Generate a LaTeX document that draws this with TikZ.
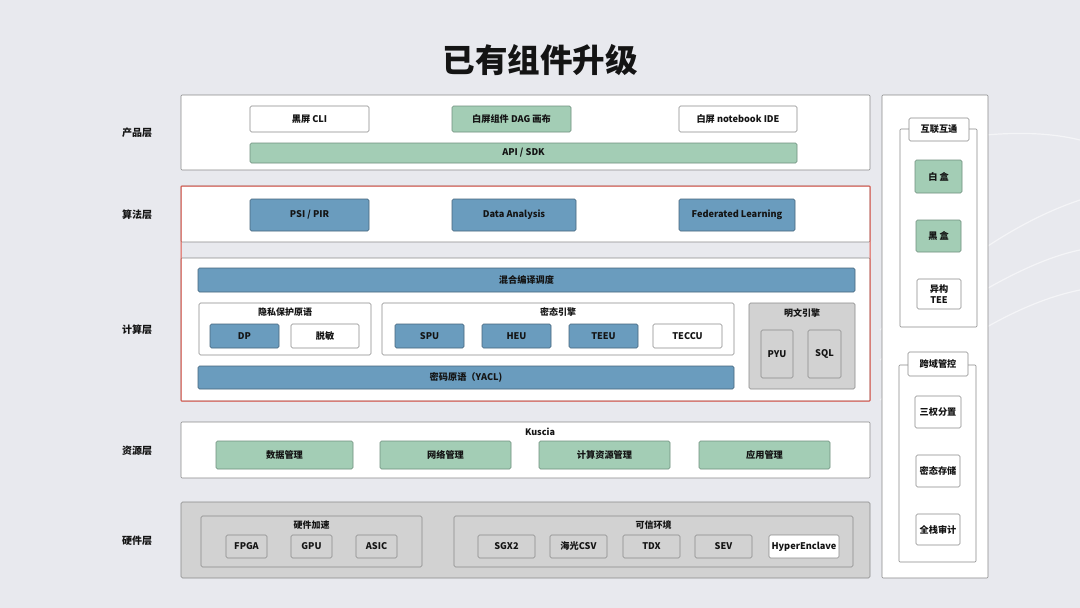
\documentclass[tikz,border=0pt]{standalone}
\usepackage{fontspec}
\setmainfont{Noto Sans CJK SC}
\definecolor{bgc}{HTML}{E8E9EE}
\definecolor{grn}{HTML}{A3CDB5}
\definecolor{grnd}{HTML}{6F8F7D}
\definecolor{blu}{HTML}{6A9CBE}
\definecolor{blud}{HTML}{46657C}
\definecolor{hwg}{HTML}{D2D2D2}
\definecolor{brd}{HTML}{8A8A8A}
\definecolor{redf}{HTML}{E0574B}
\definecolor{txt}{HTML}{141414}
\newcommand{\bx}[7]{\node[#6, minimum width={(#4-#2)*1pt}, minimum height={(#5-#3)*1pt}] (#1) at ({(#2+#4)/2},{(#3+#5)/2}) {#7};}
\begin{document}
\begin{tikzpicture}[x=1pt,y=-1pt,
  every node/.style={font=\bfseries\fontsize{9.2}{10.5}\selectfont, text=txt},
  base/.style={rounded corners=1.5pt, inner sep=0pt, outer sep=0pt, line width=0.6pt, align=center},
  wbox/.style={base, draw=brd, fill=white},
  gbox/.style={base, draw=grnd, fill=grn},
  bbox/.style={base, draw=blud, fill=blu},
  hbox/.style={base, draw=brd, fill=hwg},
  layer/.style={base, rounded corners=1pt, draw=brd, fill=white},
  lbl/.style={font=\bfseries\fontsize{10}{11}\selectfont},
  gtitle/.style={font=\bfseries\fontsize{9}{10}\selectfont}]
\useasboundingbox (0,0) rectangle (1080,608);
\fill[bgc] (0,0) rectangle (1080,608);
% decorative faint lines
\begin{scope}[white, opacity=0.55, line width=1.2pt]
\draw (880,330) .. controls (960,260) and (1020,220) .. (1080,200);
\draw (880,360) .. controls (960,300) and (1030,260) .. (1080,250);
\draw (880,400) .. controls (970,330) and (1030,300) .. (1080,290);
\draw (900,150) .. controls (980,130) and (1040,130) .. (1080,140);
\end{scope}

\node[font=\bfseries\fontsize{32.5}{36}\selectfont] (title) at (540,60) {已有组件升级};

% layer labels
\node[lbl] (lp) at (137,133) {产品层};
\node[lbl] (la) at (137,215) {算法层};
\node[lbl] (lc) at (137,330) {计算层};
\node[lbl] (lr) at (137,451) {资源层};
\node[lbl] (lh) at (137,541) {硬件层};

% product layer
\bx{prod}{181}{95}{870}{170}{layer}{}
\bx{cli}{250}{106}{369}{132}{wbox}{黑屏 CLI}
\bx{dag}{452}{106}{571}{132}{gbox}{白屏组件 DAG 画布}
\bx{ide}{679}{106}{797}{132}{wbox}{白屏 notebook IDE}
\bx{api}{250}{143}{797}{163}{gbox}{API / SDK}

% algorithm + compute
\bx{algo}{181}{186}{870}{242}{layer}{}
\bx{comp}{181}{258}{870}{401}{layer}{}
\bx{redframe}{181}{186}{870}{401}{base, draw=redf, line width=1pt, rounded corners=0.5pt}{}
\bx{psi}{250}{199}{369}{231}{bbox}{PSI / PIR}
\bx{da}{452}{199}{576}{231}{bbox}{Data Analysis}
\bx{fl}{679}{199}{795}{231}{bbox}{Federated Learning}

\bx{mix}{198}{268}{855}{292}{bbox}{混合编译调度}
\bx{priv}{199}{303}{371}{355}{wbox}{}
\node[gtitle] (privt) at (285,312.5) {隐私保护原语};
\bx{dp}{210}{324}{279}{348}{bbox}{DP}
\bx{tm}{291}{324}{359}{348}{wbox}{脱敏}
\bx{enc}{382}{303}{734}{355}{wbox}{}
\node[gtitle] (enct) at (558,312.5) {密态引擎};
\bx{spu}{395}{324}{464}{348}{bbox}{SPU}
\bx{heu}{482}{324}{551}{348}{bbox}{HEU}
\bx{teeu}{569}{324}{638}{348}{bbox}{TEEU}
\bx{teccu}{653}{324}{722}{348}{wbox}{TECCU}
\bx{plain}{749}{303}{855}{389}{hbox}{}
\node[gtitle] (plaint) at (802,313.5) {明文引擎};
\bx{pyu}{761}{330}{793}{378}{hbox}{PYU}
\bx{sql}{808}{330}{841}{378}{hbox}{SQL}
\bx{yacl}{198}{366}{734}{389}{bbox}{密码原语（YACL)}

% resource layer
\bx{res}{181}{422}{870}{478}{layer}{}
\node[gtitle] (kus) at (540,432) {Kuscia};
\bx{dm}{216}{441}{353}{469}{gbox}{数据管理}
\bx{nm}{380}{441}{511}{469}{gbox}{网络管理}
\bx{cm}{539}{441}{670}{469}{gbox}{计算资源管理}
\bx{am}{699}{441}{830}{469}{gbox}{应用管理}

% hardware layer
\bx{hw}{181}{502}{870}{578}{hbox}{}
\bx{acc}{201}{516}{422}{567}{hbox}{}
\node[gtitle] (acct) at (311.5,525) {硬件加速};
\bx{fpga}{226}{535}{267}{558}{hbox}{FPGA}
\bx{gpu}{291}{535}{332}{558}{hbox}{GPU}
\bx{asic}{356}{535}{397}{558}{hbox}{ASIC}
\bx{tee}{454}{516}{853}{567}{hbox}{}
\node[gtitle] (teet) at (653.5,525) {可信环境};
\bx{sgx}{478}{535}{535}{558}{hbox}{SGX2}
\bx{csv}{550}{535}{607}{558}{hbox}{海光CSV}
\bx{tdx}{623}{535}{680}{558}{hbox}{TDX}
\bx{sev}{695}{535}{752}{558}{hbox}{SEV}
\bx{hyp}{769}{535}{839}{558}{wbox}{HyperEnclave}

% right column
\bx{rcol}{882}{95}{988}{578}{layer}{}
\bx{g1}{900}{129}{977}{327}{layer}{}
\bx{g1t}{909}{118}{969}{141}{wbox}{互联互通}
\bx{wb}{915}{160}{962}{193}{gbox}{白 盒}
\bx{bb}{916}{220}{961}{252}{gbox}{黑 盒}
\bx{het}{917}{279}{961}{309}{wbox}{异构\\TEE}
\bx{g2}{899}{365}{976}{562}{layer}{}
\bx{g2t}{908}{352}{968}{376}{wbox}{跨域管控}
\bx{sq}{915}{396}{961}{428}{wbox}{三权分置}
\bx{ms}{916}{455}{960}{487}{wbox}{密态存储}
\bx{qz}{916}{514}{960}{545}{wbox}{全栈审计}
\end{tikzpicture}
\end{document}
